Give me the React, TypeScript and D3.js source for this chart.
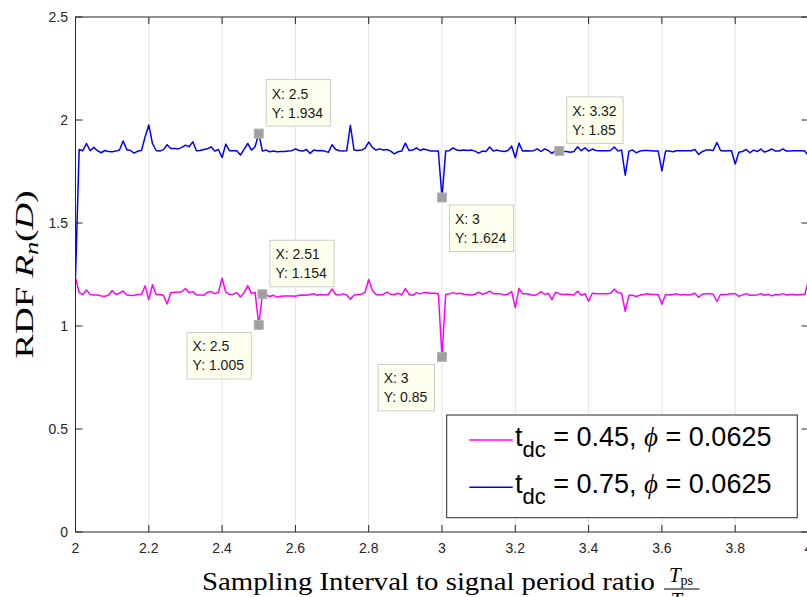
import React from 'react';
import * as d3 from 'd3';

// ---------- data ----------
const X_START = 2;
const X_STEP = 0.01;

// t_dc = 0.75 (blue)
const BLUE_VALUES = [
  1.237, 1.857, 1.851, 1.886, 1.851, 1.867, 1.851, 1.841, 1.852, 1.847,
  1.846, 1.849, 1.854, 1.898, 1.856, 1.852, 1.839, 1.849, 1.852, 1.919,
  1.976, 1.886, 1.852, 1.849, 1.856, 1.880, 1.862, 1.862, 1.860, 1.867,
  1.878, 1.870, 1.894, 1.851, 1.852, 1.857, 1.860, 1.870, 1.849, 1.857,
  1.818, 1.883, 1.851, 1.851, 1.851, 1.830, 1.857, 1.886, 1.854, 1.870,
  1.934, 1.849, 1.854, 1.846, 1.849, 1.846, 1.847, 1.847, 1.849, 1.851,
  1.860, 1.852, 1.849, 1.857, 1.838, 1.854, 1.851, 1.852, 1.849, 1.843,
  1.880, 1.857, 1.851, 1.849, 1.851, 1.974, 1.854, 1.852, 1.854, 1.862,
  1.893, 1.867, 1.854, 1.860, 1.854, 1.857, 1.849, 1.836, 1.846, 1.849,
  1.888, 1.852, 1.854, 1.865, 1.852, 1.859, 1.854, 1.849, 1.849, 1.849,
  1.624, 1.849, 1.851, 1.865, 1.854, 1.852, 1.854, 1.852, 1.854, 1.849,
  1.839, 1.849, 1.847, 1.869, 1.849, 1.854, 1.849, 1.847, 1.852, 1.873,
  1.817, 1.888, 1.849, 1.851, 1.849, 1.851, 1.860, 1.847, 1.860, 1.852,
  1.838, 1.851, 1.850, 1.847, 1.847, 1.844, 1.847, 1.870, 1.851, 1.865,
  1.849, 1.859, 1.852, 1.851, 1.851, 1.851, 1.852, 1.869, 1.849, 1.854,
  1.732, 1.849, 1.854, 1.841, 1.849, 1.852, 1.852, 1.851, 1.849, 1.849,
  1.753, 1.849, 1.849, 1.846, 1.851, 1.851, 1.851, 1.851, 1.851, 1.857,
  1.833, 1.846, 1.854, 1.854, 1.852, 1.891, 1.852, 1.849, 1.851, 1.851,
  1.786, 1.844, 1.847, 1.857, 1.841, 1.854, 1.847, 1.859, 1.844, 1.851,
  1.859, 1.849, 1.849, 1.860, 1.849, 1.849, 1.851, 1.851, 1.851, 1.849,
  1.825,
];

// t_dc = 0.45 (magenta)
const MAGENTA_VALUES = [
  1.235, 1.162, 1.153, 1.175, 1.153, 1.151, 1.151, 1.146, 1.144, 1.149,
  1.172, 1.153, 1.159, 1.170, 1.151, 1.148, 1.149, 1.153, 1.153, 1.195,
  1.128, 1.200, 1.153, 1.153, 1.149, 1.107, 1.162, 1.164, 1.164, 1.166,
  1.182, 1.162, 1.167, 1.151, 1.151, 1.149, 1.164, 1.167, 1.157, 1.164,
  1.232, 1.164, 1.153, 1.154, 1.162, 1.141, 1.162, 1.196, 1.157, 1.164,
  1.005, 1.154, 1.151, 1.143, 1.149, 1.140, 1.144, 1.146, 1.146, 1.146,
  1.144, 1.149, 1.151, 1.149, 1.153, 1.156, 1.149, 1.153, 1.151, 1.153,
  1.180, 1.153, 1.151, 1.156, 1.151, 1.130, 1.151, 1.153, 1.153, 1.164,
  1.226, 1.172, 1.153, 1.151, 1.153, 1.164, 1.153, 1.153, 1.159, 1.151,
  1.182, 1.153, 1.149, 1.162, 1.156, 1.162, 1.161, 1.159, 1.159, 1.157,
  0.850, 1.153, 1.156, 1.162, 1.156, 1.159, 1.154, 1.153, 1.151, 1.154,
  1.164, 1.154, 1.159, 1.169, 1.157, 1.156, 1.156, 1.151, 1.154, 1.167,
  1.089, 1.183, 1.157, 1.157, 1.153, 1.148, 1.153, 1.167, 1.153, 1.159,
  1.128, 1.164, 1.157, 1.153, 1.154, 1.153, 1.151, 1.170, 1.149, 1.157,
  1.120, 1.159, 1.157, 1.156, 1.156, 1.156, 1.159, 1.179, 1.161, 1.159,
  1.071, 1.149, 1.149, 1.143, 1.149, 1.153, 1.156, 1.153, 1.153, 1.153,
  1.106, 1.153, 1.151, 1.153, 1.156, 1.151, 1.153, 1.151, 1.153, 1.159,
  1.140, 1.154, 1.156, 1.156, 1.154, 1.119, 1.153, 1.153, 1.154, 1.156,
  1.157, 1.144, 1.151, 1.157, 1.149, 1.149, 1.151, 1.157, 1.149, 1.154,
  1.146, 1.153, 1.151, 1.157, 1.151, 1.153, 1.153, 1.151, 1.153, 1.154,
  1.221,
];

const X_TICKS = [2, 2.2, 2.4, 2.6, 2.8, 3, 3.2, 3.4, 3.6, 3.8, 4];
const X_TICK_LABELS = ['2', '2.2', '2.4', '2.6', '2.8', '3', '3.2', '3.4', '3.6', '3.8', '4'];
const Y_TICKS = [0, 0.5, 1, 1.5, 2, 2.5];
const Y_TICK_LABELS = ['0', '0.5', '1', '1.5', '2', '2.5'];

const LEGEND_TDC = ['0.45', '0.75'];
const LEGEND_PHI = ['0.0625', '0.0625'];

const TIP_X = [2.5, 3, 3.32, 2.51, 2.5, 3];
const TIP_Y = [1.934, 1.624, 1.85, 1.154, 1.005, 0.85];
const TIP_X_LABELS = ['2.5', '3', '3.32', '2.51', '2.5', '3'];
const TIP_Y_LABELS = ['1.934', '1.624', '1.85', '1.154', '1.005', '0.85'];
const TIP_SIDE = ['ur', 'dr', 'ur', 'ur', 'dl', 'dl'];

// ---------- layout ----------
const W = 807;
const H = 597;
const M = { left: 75.5, right: 808.5, top: 17, bottom: 532 };
const AX = '#262626';
const SANS = '"Liberation Sans", Arial, Helvetica, sans-serif';
const SERIF = '"Liberation Serif", "Times New Roman", serif';

const arialW: Record<string, number> = {
  '0': 0.556, '1': 0.556, '2': 0.556, '3': 0.556, '4': 0.556, '5': 0.556,
  '6': 0.556, '7': 0.556, '8': 0.556, '9': 0.556, '.': 0.278, ':': 0.278,
  ' ': 0.278, X: 0.667, Y: 0.667,
};
const textW = (s: string, fs: number) =>
  s.split('').reduce((a, c) => a + (arialW[c] ?? 0.556), 0) * fs;

export default function App() {
  const x = d3.scaleLinear().domain([2, 4]).range([M.left, M.right]);
  const y = d3.scaleLinear().domain([0, 2.5]).range([M.bottom, M.top]);

  const xs = BLUE_VALUES.map((_, i) => X_START + i * X_STEP);
  const line = d3
    .line<number>()
    .x((_, i) => x(xs[i]))
    .y((d) => y(d));

  const tickLen = 7;
  const tipFs = 14;

  return (
    <svg
      width={W}
      height={H}
      style={{ position: 'absolute', left: 0, top: 0, display: 'block', background: '#fff' }}
    >
      <defs>
        <clipPath id="plotclip">
          <rect x={M.left} y={M.top} width={M.right - M.left} height={M.bottom - M.top} />
        </clipPath>
      </defs>
      <rect x={0} y={0} width={W} height={H} fill="#fff" />

      {/* vertical grid */}
      {X_TICKS.slice(1, -1).map((t) => (
        <line key={'g' + t} x1={x(t)} x2={x(t)} y1={M.top} y2={M.bottom} stroke="#e3e3e3" strokeWidth={1} />
      ))}

      {/* series */}
      <g clipPath="url(#plotclip)" fill="none" strokeWidth={1.5} strokeLinejoin="round">
        <path d={line(MAGENTA_VALUES) || ''} stroke="#ff00ff" />
        <path d={line(BLUE_VALUES) || ''} stroke="#0000ff" />
      </g>

      {/* axes box */}
      <rect x={M.left} y={M.top} width={M.right - M.left} height={M.bottom - M.top} fill="none" stroke={AX} strokeWidth={1} />

      {/* x ticks */}
      {X_TICKS.map((t, i) => (
        <g key={'xt' + t}>
          <line x1={x(t)} x2={x(t)} y1={M.bottom} y2={M.bottom - tickLen} stroke={AX} />
          <line x1={x(t)} x2={x(t)} y1={M.top} y2={M.top + tickLen} stroke={AX} />
          <text x={x(t)} y={553} textAnchor="middle" fontFamily={SANS} fontSize={14} fill={AX}>
            {X_TICK_LABELS[i]}
          </text>
        </g>
      ))}

      {/* y ticks */}
      {Y_TICKS.map((t, i) => (
        <g key={'yt' + t}>
          <line x1={M.left} x2={M.left + tickLen} y1={y(t)} y2={y(t)} stroke={AX} />
          <line x1={M.right} x2={M.right - tickLen} y1={y(t)} y2={y(t)} stroke={AX} />
          <text x={68} y={y(t) + 5} textAnchor="end" fontFamily={SANS} fontSize={14} fill={AX}>
            {Y_TICK_LABELS[i]}
          </text>
        </g>
      ))}

      {/* y label */}
      <text
        transform={`translate(33, ${(M.top + M.bottom) / 2}) rotate(-90)`}
        textAnchor="middle"
        fontFamily={SERIF}
        fontSize={25}
        fill="#000"
        textLength={168}
        lengthAdjust="spacingAndGlyphs"
        style={{ whiteSpace: 'pre' }}
      >
        <tspan>RDF </tspan>
        <tspan fontStyle="italic">R</tspan>
        <tspan fontStyle="italic" fontSize={18} dy={5}>n</tspan>
        <tspan dy={-5}>(</tspan>
        <tspan fontStyle="italic">D</tspan>
        <tspan>)</tspan>
      </text>

      {/* x label */}
      <text
        x={202}
        y={589.5}
        fontFamily={SERIF}
        fontSize={26}
        fill="#000"
        textLength={453}
        lengthAdjust="spacingAndGlyphs"
      >
        Sampling Interval to signal period ratio
      </text>
      <g fontFamily={SERIF} fill="#000">
        <text x={681} y={582} textAnchor="middle" style={{ whiteSpace: 'pre' }}>
          <tspan fontStyle="italic" fontSize={21}>T</tspan>
          <tspan fontSize={14} dy={3}>ps</tspan>
        </text>
        <line x1={664} x2={699.5} y1={589} y2={589} stroke="#000" strokeWidth={1} />
        <text x={679} y={607} textAnchor="middle" style={{ whiteSpace: 'pre' }}>
          <tspan fontStyle="italic" fontSize={21}>T</tspan>
          <tspan fontSize={14} dy={3}>s</tspan>
        </text>
      </g>

      {/* data tips */}
      {TIP_X.map((tx, i) => {
        const mx = x(tx);
        const my = y(TIP_Y[i]);
        const l1 = 'X: ' + TIP_X_LABELS[i];
        const l2 = 'Y: ' + TIP_Y_LABELS[i];
        const bw = Math.max(textW(l1, tipFs), textW(l2, tipFs)) + 12;
        const bh = 46.5;
        const side = TIP_SIDE[i];
        const off = 7.5;
        const left = side === 'dl' ? mx - off - bw : mx + off;
        const top = side === 'ur' ? my - off - bh : my + off;
        return (
          <g key={'tip' + i}>
            <rect x={mx - 4.5} y={my - 4.5} width={9} height={9} fill="#a0a0a0" stroke="#b4b4b4" strokeWidth={1} />
            <rect x={left} y={top} width={bw} height={bh} fill="#ffffee" stroke="#cccccc" strokeWidth={1} />
            <text x={left + 5.5} y={top + 19} fontFamily={SANS} fontSize={tipFs} fill="#1a1a1a" style={{ whiteSpace: 'pre' }}>
              {l1}
            </text>
            <text x={left + 5.5} y={top + 38} fontFamily={SANS} fontSize={tipFs} fill="#1a1a1a" style={{ whiteSpace: 'pre' }}>
              {l2}
            </text>
          </g>
        );
      })}

      {/* legend */}
      <g>
        <rect x={446.7} y={415} width={350.6} height={102.7} fill="#fff" stroke={AX} strokeWidth={1} />
        {LEGEND_TDC.map((tdc, i) => {
          const ly = 440 + i * 47.3;
          const color = i === 0 ? '#ff00ff' : '#0000ff';
          return (
            <g key={'lg' + i}>
              <line x1={469.3} x2={512.7} y1={ly} y2={ly} stroke={color} strokeWidth={1.5} />
              <text x={515} y={ly + 5.7} fontFamily={SANS} fontSize={27} fill="#000" style={{ whiteSpace: 'pre' }}>
                <tspan>t</tspan>
                <tspan fontSize={22} dy={11}>dc</tspan>
                <tspan dy={-11}>{' = ' + tdc + ', '}</tspan>
                <tspan fontFamily={SERIF} fontStyle="italic">{'\u03D5'}</tspan>
                <tspan>{' = ' + LEGEND_PHI[i]}</tspan>
              </text>
            </g>
          );
        })}
      </g>
    </svg>
  );
}
